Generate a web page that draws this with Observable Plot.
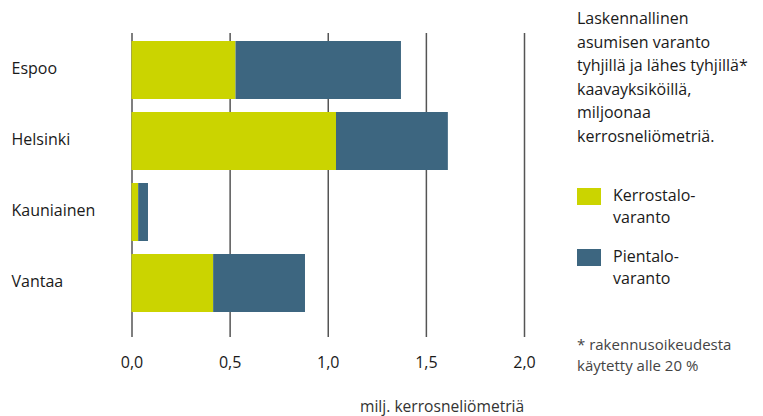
<!DOCTYPE html>
<html>
<head>
<meta charset="utf-8">
<script src="https://cdn.jsdelivr.net/npm/d3@7"></script>
<script src="https://cdn.jsdelivr.net/npm/@observablehq/plot@0.6"></script>
<style>
  html, body { margin: 0; padding: 0; background: #fff; }
  body { font-family: "Open Sans", sans-serif; color: #1a1a1a; }
  #wrap { position: relative; width: 763px; height: 416px; overflow: hidden; }
  #chart { position: absolute; left: 0; top: 0; }
  #caption { position: absolute; left: 360px; top: 397px; font-size: 15.6px; line-height: 18px; color: #333; white-space: nowrap; }
  #side { position: absolute; left: 577px; top: 7px; width: 186px; }
  #title { font-size: 16px; line-height: 23.6px; color: #1a1a1a; }
  .sw { position: absolute; left: 0; width: 24px; height: 17px; }
  .lt { position: absolute; left: 36px; font-size: 16px; line-height: 22px; white-space: nowrap; }
  #note { position: absolute; left: 0; top: 327px; font-size: 15px; line-height: 21px; color: #444; white-space: nowrap; }
</style>
</head>
<body>
<div id="wrap">
  <div id="chart"></div>
  <div id="caption"></div>
  <div id="side">
    <div id="title"></div>
    <div id="legend"></div>
    <div id="note"></div>
  </div>
</div>
<script>
const cities = ["Espoo", "Helsinki", "Kauniainen", "Vantaa"];
const types = ["Kerrostalovaranto", "Pientalovaranto"];
const kerrostalo = [0.53, 1.042, 0.034, 0.416];
const pientalo = [0.843, 0.570, 0.050, 0.468];
const xTicks = [0, 0.5, 1.0, 1.5, 2.0];
const colors = ["#cbd400", "#3d6680"];
const titleLines = ["Laskennallinen", "asumisen varanto", "tyhjillä ja lähes tyhjillä*", "kaavayksiköillä,", "miljoonaa", "kerrosneliömetriä."];
const legendLabels = [["Kerrostalo-", "varanto"], ["Pientalo-", "varanto"]];
const noteLines = ["* rakennusoikeudesta", "käytetty alle 20 %"];
const xLabel = "milj. kerrosneliömetriä";

const rows = [];
cities.forEach((c, i) => {
  rows.push({city: c, type: types[0], value: kerrostalo[i]});
  rows.push({city: c, type: types[1], value: pientalo[i]});
});

const fmt = d => d.toFixed(1).replace(".", ",");

const chart = Plot.plot({
  width: 563,
  height: 392,
  marginLeft: 131.5,
  marginRight: 39,
  marginTop: 33,
  marginBottom: 55,
  style: {fontFamily: "'Open Sans', sans-serif", fontSize: "16px", color: "#1a1a1a", background: "#fff"},
  x: {domain: [0, 2], ticks: xTicks},
  y: {domain: cities, paddingInner: 0.19, paddingOuter: 0, insetTop: 7, insetBottom: 24},
  color: {domain: types, range: colors},
  marks: [
    Plot.ruleX(xTicks, {stroke: "#555", strokeWidth: 1.5}),
    Plot.barX(rows, Plot.stackX({x: "value", y: "city", fill: "type", order: types})),
    Plot.axisX({ticks: xTicks, tickFormat: fmt, tickSize: 0, tickPadding: 19, label: null, fontSize: 16}),
    Plot.axisY({tickSize: 0, textAnchor: "start", dx: -111.5, dy: -2, label: null, fontSize: 16})
  ]
});
document.getElementById("chart").appendChild(chart);

document.getElementById("caption").textContent = xLabel;
document.getElementById("title").innerHTML = titleLines.map(s => `<div>${s}</div>`).join("");

const legendTops = [181, 242];
const legend = document.getElementById("legend");
legendLabels.forEach((lines, i) => {
  const t = legendTops[i];
  const sw = document.createElement("div");
  sw.className = "sw";
  sw.style.top = t + "px";
  sw.style.background = colors[i];
  legend.appendChild(sw);
  const lt = document.createElement("div");
  lt.className = "lt";
  lt.style.top = (t - 4) + "px";
  lt.innerHTML = lines.map(s => `<div>${s}</div>`).join("");
  legend.appendChild(lt);
});
document.getElementById("note").innerHTML = noteLines.map(s => `<div>${s}</div>`).join("");
</script>
</body>
</html>
